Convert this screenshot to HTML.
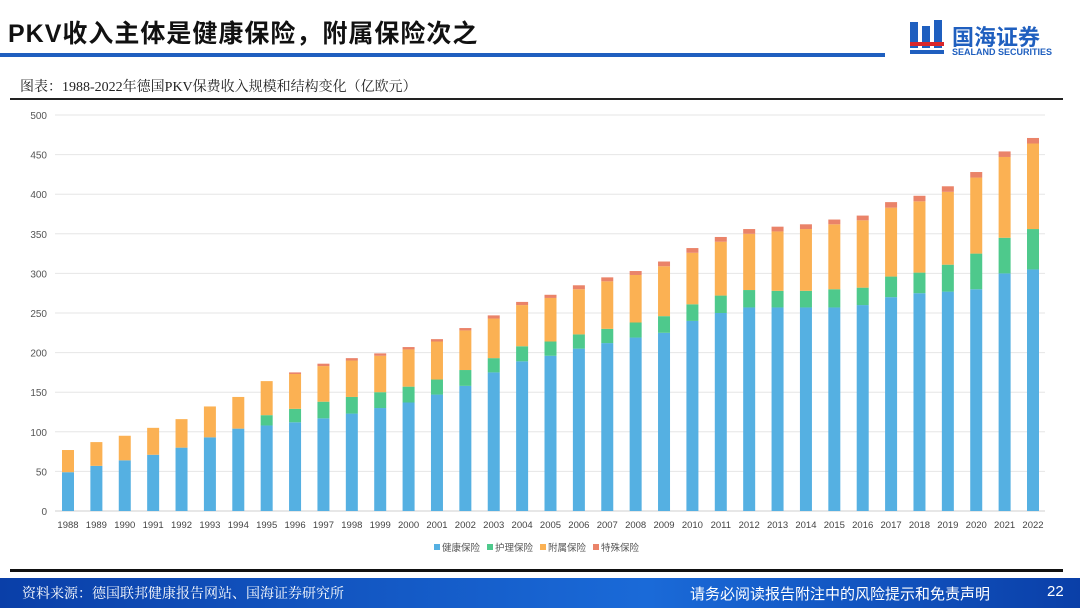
<!DOCTYPE html>
<html><head><meta charset="utf-8">
<style>
body{margin:0;width:1080px;height:608px;overflow:hidden;background:#fff;font-family:"Liberation Sans","Noto Sans CJK SC",sans-serif;position:relative}
.abs{position:absolute}
</style></head>
<body>
<div class="abs" style="left:8px;top:14px;font-size:25px;font-weight:bold;color:#111;font-family:'Liberation Sans','Noto Sans CJK SC',sans-serif;letter-spacing:1px">PKV收入主体是健康保险，附属保险次之</div>
<div class="abs" style="left:0;top:53px;width:885px;height:4px;background:#1f5fbf"></div>
<div class="abs" style="left:908px;top:18px;width:160px;height:42px">
  <svg width="40" height="40" style="position:absolute;left:0;top:0">
    <rect x="2" y="4" width="8" height="26" fill="#1f5fbf"/><rect x="14" y="8" width="8" height="22" fill="#1f5fbf"/><rect x="26" y="2" width="8" height="28" fill="#1f5fbf"/>
    <rect x="2" y="24" width="34" height="4" fill="#d9262b"/><rect x="2" y="32" width="34" height="4" fill="#1f5fbf"/>
  </svg>
  <div style="position:absolute;left:44px;top:2px;font-size:22px;font-weight:bold;color:#1f5fbf">国海证券</div>
  <div style="position:absolute;left:44px;top:29px;font-size:9px;font-weight:bold;color:#1f5fbf">SEALAND SECURITIES</div>
</div>
<div class="abs" style="left:20px;top:76px;font-size:14px;color:#222;font-family:'Liberation Serif','Noto Serif CJK SC',serif">图表：1988-2022年德国PKV保费收入规模和结构变化（亿欧元）</div>
<div class="abs" style="left:10px;top:98px;width:1053px;height:2px;background:#222"></div>

<svg id="chart" class="abs" style="left:0;top:100px" width="1080" height="465"></svg>

<div class="abs" style="left:10px;top:569px;width:1053px;height:3px;background:#111"></div>
<div class="abs" style="left:0;top:578px;width:1080px;height:30px;background:linear-gradient(90deg,#0a3fa8,#1a6ad8 60%,#0a3fa8)"></div>
<div class="abs" style="left:22px;top:583px;font-size:14px;color:#fff;font-family:'Liberation Serif','Noto Serif CJK SC',serif">资料来源：德国联邦健康报告网站、国海证券研究所</div>
<div class="abs" style="left:690px;top:583px;font-size:15px;color:#fff">请务必阅读报告附注中的风险提示和免责声明</div>
<div class="abs" style="left:1047px;top:583px;font-size:15px;color:#fff">22</div>

<script>
const years=[1988,1989,1990,1991,1992,1993,1994,1995,1996,1997,1998,1999,2000,2001,2002,2003,2004,2005,2006,2007,2008,2009,2010,2011,2012,2013,2014,2015,2016,2017,2018,2019,2020,2021,2022];
const health=[49,57,64,71,80,93,104,108,112,117,123,130,137,147,158,175,189,196,205,212,219,225,240,250,257,257,257,257,260,270,275,277,280,300,305];
const care=[0,0,0,0,0,0,0,13,17,21,21,20,20,19,20,18,19,18,18,18,19,21,21,22,22,21,21,23,22,26,26,34,45,45,51];
const special=[0,0,0,0,0,0,0,0,2,3,3,3,3,3,3,4,4,4,5,5,5,6,6,6,6,6,6,6,6,7,7,7,7,7,7];
const totals=[77,87,95,105,116,132,144,164,175,186,193,199,207,217,231,247,264,273,285,295,303,315,332,346,356,359,362,368,373,390,398,410,428,454,471];
const supplementary=totals.map((t,i)=>t-health[i]-care[i]-special[i]);
const yTicks=[0,50,100,150,200,250,300,350,400,450,500];
const seriesNames=["健康保险","护理保险","附属保险","特殊保险"];
const colors=["#55b0e2","#4ec98c","#fbb153","#ea8369"];

const svg=document.getElementById('chart');
const NS='http://www.w3.org/2000/svg';
const y0=411,yTop=15,x0=68,x1=1033,bw=12,left=55,right=1045;
const yS=v=>y0-(v/500)*(y0-yTop);
const xS=i=>x0+i*(x1-x0)/(years.length-1);
function mk(t,a){const e=document.createElementNS(NS,t);for(const k in a)e.setAttribute(k,a[k]);svg.appendChild(e);return e;}
yTicks.forEach(v=>{
  const g=mk('line',{x1:left,x2:right,y1:yS(v),y2:yS(v),stroke:v===0?'#cfcfcf':'#e6e6e6','stroke-width':1});
  
  
  const t=mk('text',{x:47,y:yS(v)+4,'text-anchor':'end','font-size':10,fill:'#555'});
  t.textContent=v;
  
  
});
const series=[health,care,supplementary,special];
years.forEach((yr,i)=>{
  let base=0;
  series.forEach((s,k)=>{
    const v=s[i];
    if(v>0){
      const r=mk('rect',{x:xS(i)-bw/2,y:yS(base+v),width:bw,height:yS(base)-yS(base+v),fill:colors[k]});
      
      
    }
    base+=v;
  });
  const t=mk('text',{x:xS(i),y:428,'text-anchor':'middle','font-size':9.5,fill:'#444'});
  t.textContent=yr;
  
  
});
let lx=434;
seriesNames.forEach((n,k)=>{
  const r=mk('rect',{x:lx,y:444,width:6,height:6,fill:colors[k]});
  
  
  const t=mk('text',{x:lx+8,y:451,'font-size':9.5,fill:'#555'});
  t.textContent=n;
  
  
  lx+=53;
});
</script>
</body></html>
